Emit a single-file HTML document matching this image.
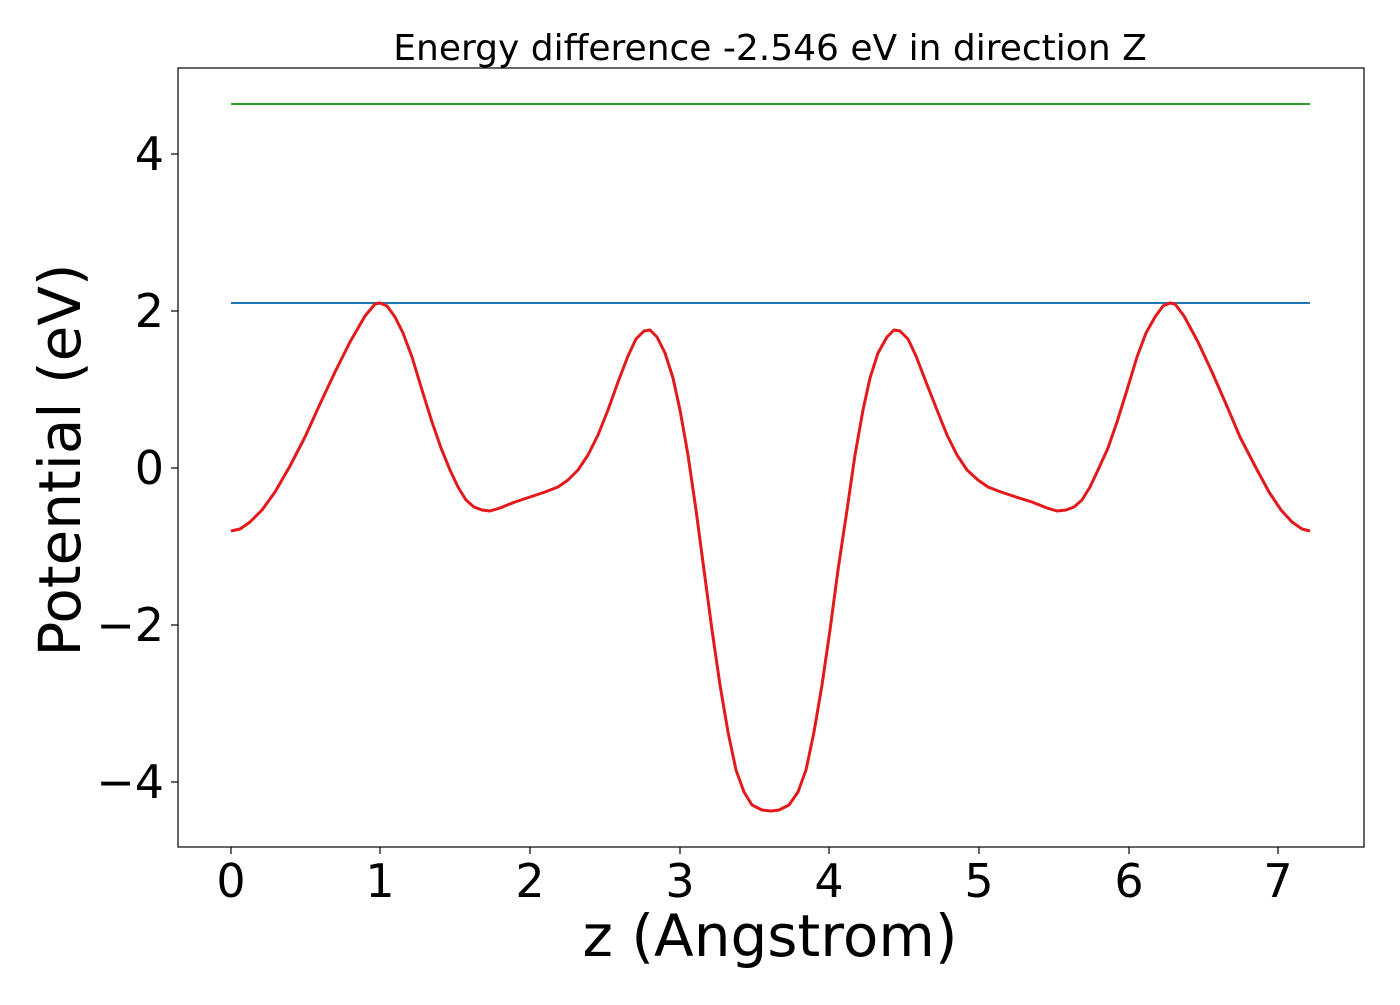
<!DOCTYPE html>
<html><head><meta charset="utf-8"><style>body{margin:0;background:#fff}</style></head>
<body>
<svg width="1400" height="1000" xmlns="http://www.w3.org/2000/svg" font-family="DejaVu Sans, Liberation Sans, sans-serif">
<rect width="1400" height="1000" fill="#fff"/>
<line x1="231" y1="104" x2="1310" y2="104" stroke="#2ca02c" stroke-width="2"/>
<line x1="231" y1="303" x2="1310" y2="303" stroke="#1f77b4" stroke-width="2"/>
<polyline fill="none" stroke="#e31a1c" stroke-width="3" stroke-linejoin="round" points="231,531 240,529 250,522 262,510 275,492 290,466 305,437 320,404 335,372 350,342 365,316 375,304 380,303 387,306 395,317 403,333 412,357 422,390 432,422 441,448 450,470 458,487 466,500 474,507 482,510 490,511 500,508 515,502 530,497 545,492 558,487 568,480 578,470 588,455 598,435 608,410 618,382 628,356 636,339 644,331 650,330 657,337 665,353 673,378 680,410 688,455 696,510 704,570 712,630 720,685 728,732 736,770 744,792 752,805 762,810 771,811 779,810 789,805 798,792 806,770 814,732 822,685 830,630 838,570 847,510 855,455 863,410 870,378 878,353 887,337 894,330 900,331 908,339 916,356 926,382 937,410 947,435 957,455 967,470 978,480 988,487 1001,492 1016,497 1032,502 1047,508 1057,511 1066,510 1074,507 1082,500 1090,487 1098,470 1108,448 1117,422 1127,390 1137,357 1146,333 1155,317 1163,306 1170,303 1175,304 1184,316 1198,342 1212,372 1226,404 1240,437 1255,466 1269,492 1281,510 1292,522 1302,529 1310,531"/>
<rect x="178" y="68" width="1186" height="779" fill="none" stroke="#000" stroke-width="1.2"/>
<g stroke="#000" stroke-width="1.2">
<line x1="231" y1="847" x2="231" y2="854"/><line x1="380" y1="847" x2="380" y2="854"/><line x1="530" y1="847" x2="530" y2="854"/><line x1="680" y1="847" x2="680" y2="854"/><line x1="829" y1="847" x2="829" y2="854"/><line x1="979" y1="847" x2="979" y2="854"/><line x1="1129" y1="847" x2="1129" y2="854"/><line x1="1278" y1="847" x2="1278" y2="854"/>
<line x1="171" y1="154" x2="178" y2="154"/><line x1="171" y1="311" x2="178" y2="311"/><line x1="171" y1="468" x2="178" y2="468"/><line x1="171" y1="625" x2="178" y2="625"/><line x1="171" y1="782" x2="178" y2="782"/>
</g>
<g font-size="46" text-anchor="middle" fill="#000">
<text x="231" y="897">0</text><text x="380" y="897">1</text><text x="530" y="897">2</text><text x="680" y="897">3</text><text x="829" y="897">4</text><text x="979" y="897">5</text><text x="1129" y="897">6</text><text x="1278" y="897">7</text>
</g>
<g font-size="46" text-anchor="end" fill="#000">
<text x="164" y="170">4</text><text x="164" y="327">2</text><text x="164" y="484">0</text><text x="164" y="641">−2</text><text x="164" y="798">−4</text>
</g>
<text x="770" y="956" font-size="58" text-anchor="middle">z (Angstrom)</text>
<text transform="translate(80,460) rotate(-90)" font-size="58" text-anchor="middle">Potential (eV)</text>
<text x="770" y="60" font-size="36" text-anchor="middle">Energy difference -2.546 eV in direction Z</text>
</svg>
</body></html>
